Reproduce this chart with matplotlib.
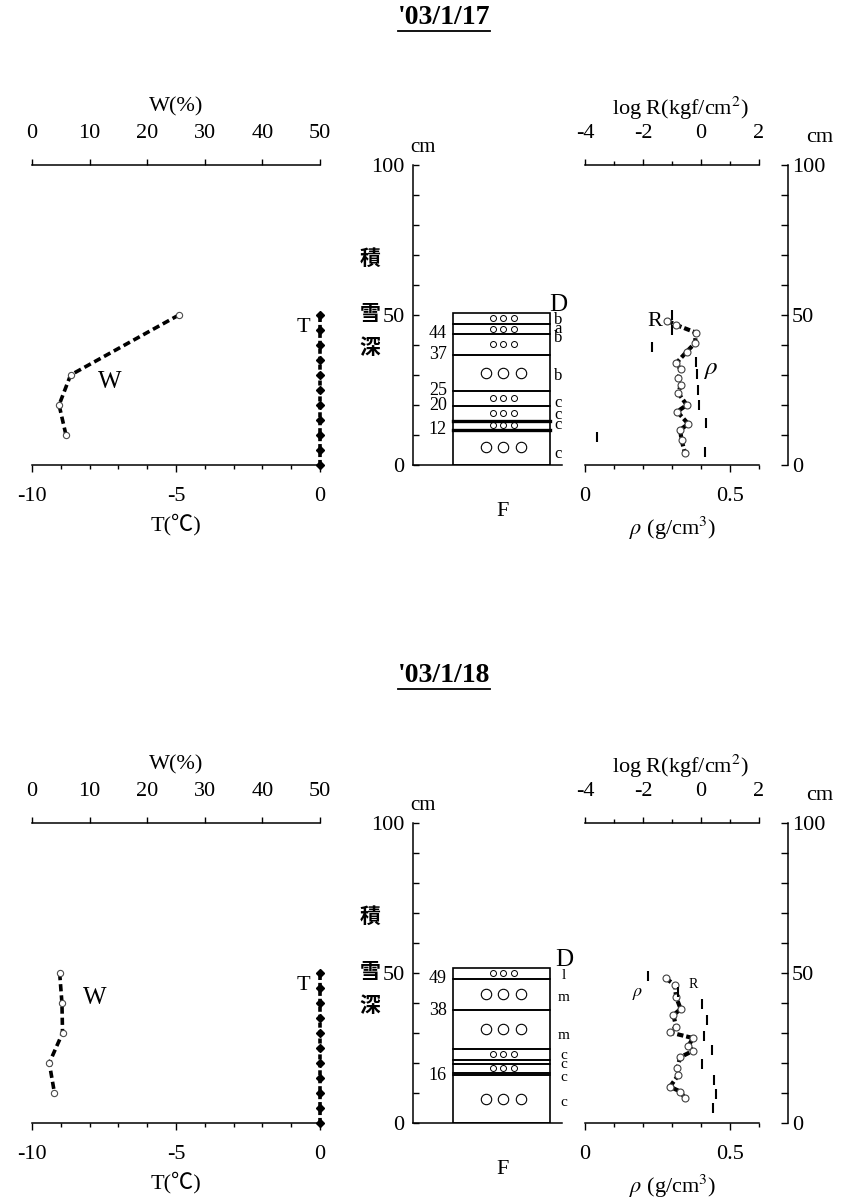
import matplotlib
matplotlib.use("Agg")
import matplotlib.pyplot as plt
from matplotlib.lines import Line2D
from matplotlib.patches import Rectangle
from matplotlib.ticker import MultipleLocator, FixedLocator

plt.rcParams['font.family'] = ['Liberation Serif', 'Noto Sans CJK JP', 'DejaVu Sans']
plt.rcParams['mathtext.fontset'] = 'stix'
plt.rcParams['axes.unicode_minus'] = False
plt.rcParams['axes.linewidth'] = 1.1

FIG_W, FIG_H = 842, 1204

# ---- '03/1/17 ----
title_17 = "'03/1/17"
t_depth_17 = [0, 5, 10, 15, 20, 25, 30, 35, 40, 45, 50]
t_val_17 = [0, 0, 0, 0, 0, 0, 0, 0, 0, 0, 0]
w_depth_17 = [50, 30, 20, 10]
w_val_17 = [25.5, 6.7, 4.7, 5.9]
layer_tops_17 = [50.8, 47, 43.7, 36.7, 24.8, 19.8, 14.8, 11.7, 0]
grains_17 = ['s', 's', 's', 'L', 's', 's', 's', 'L']
thick_17 = [14.8, 11.7]
bound_labels_17 = ['', '', '44', '37', '25', '20', '', '12', '']
hard_text_17 = ['D', 'b', 'a', 'b', 'b', 'c', 'c', 'c', 'c']
hard_depth_17 = [53.3, 48.3, 45.4, 42.4, 29.8, 20.8, 16.6, 13.3, 3.7]
rho_depth_17 = [48.1, 46.7, 44.1, 40.6, 37.8, 33.9, 31.9, 28.9, 26.7, 23.9, 20.0, 17.8, 13.7, 11.7, 8.3, 3.9]
rho_val_17 = [0.284, 0.314, 0.383, 0.379, 0.351, 0.314, 0.330, 0.322, 0.330, 0.322, 0.351, 0.318, 0.356, 0.328, 0.333, 0.345]
logr_depth_17 = [50, 45, 39.5, 34.5, 30.5, 25, 20, 14, 9.5, 4.5]
logr_val_17 = [-1.0, -1.0, -1.7, -0.17, -0.13, -0.1, -0.08, 0.17, -3.6, 0.14]

# ---- '03/1/18 ----
title_18 = "'03/1/18"
t_depth_18 = [0, 5, 10, 15, 20, 25, 30, 35, 40, 45, 50]
t_val_18 = [0, 0, 0, 0, 0, 0, 0, 0, 0, 0, 0]
w_depth_18 = [50, 40, 30, 20, 10]
w_val_18 = [4.8, 5.2, 5.3, 3.0, 3.9]
layer_tops_18 = [51.8, 48.1, 37.6, 24.8, 20.9, 19.8, 16.7, 15.9, 0]
grains_18 = ['s', 'L', 'L', 's', '', 's', '', 'L']
thick_18 = []
bound_labels_18 = ['', '49', '38', '', '', '', '', '16', '']
hard_text_18 = ['D', 'l', 'm', 'm', 'c', 'c', 'c', 'c']
hard_depth_18 = [54.2, 49.2, 41.8, 29.2, 22.4, 19.4, 15.3, 7.0]
rho_depth_18 = [48.2, 46.0, 42.0, 38.0, 36.0, 32.1, 30.2, 28.3, 25.7, 24.1, 21.9, 18.2, 16.0, 12.1, 10.5, 8.3]
rho_val_18 = [0.279, 0.310, 0.314, 0.330, 0.305, 0.314, 0.293, 0.373, 0.356, 0.373, 0.328, 0.318, 0.322, 0.293, 0.328, 0.345]
logr_depth_18 = [48.9, 43.6, 39.6, 34.3, 29.1, 24.2, 19.8, 14.5, 9.7, 4.9]
logr_val_18 = [-1.82, -0.79, 0.02, 0.22, 0.10, 0.37, 0.02, 0.45, 0.52, 0.40]


def add_px_axes(fig, x0, x1, y_top, y_bot):
    return fig.add_axes([x0 / FIG_W, 1 - y_bot / FIG_H,
                         (x1 - x0) / FIG_W, (y_bot - y_top) / FIG_H])


def put(fig, x, y, s, **kw):
    kw.setdefault('ha', 'center')
    kw.setdefault('va', 'center')
    return fig.text(x / FIG_W, 1 - y / FIG_H, s, **kw)


def hide(ax, *names):
    for n in names:
        ax.spines[n].set_visible(False)


def draw_day(fig, dy, day):
    # title with underline
    t = put(fig, 444, 18 + dy, day['title'], fontsize=20, fontweight='bold')
    bb = t.get_window_extent(fig.canvas.get_renderer())
    fig.add_artist(Line2D([bb.x0 / FIG_W, bb.x1 / FIG_W], [1 - (31 + dy) / FIG_H] * 2,
                          color='black', lw=1.3))

    # --- T / W profile ---
    ax = add_px_axes(fig, 32, 320, 165 + dy, 465 + dy)
    ax.set_xlim(-10, 0)
    ax.set_ylim(0, 100)
    hide(ax, 'left', 'right', 'top')
    ax.yaxis.set_visible(False)
    ax.xaxis.set_major_locator(MultipleLocator(5))
    ax.xaxis.set_minor_locator(MultipleLocator(1))
    ax.tick_params(axis='x', which='major', length=5, width=1, labelsize=16, pad=11)
    ax.tick_params(axis='x', which='minor', length=3, width=1)
    ax.plot(day['t_val'], day['t_depth'], color='black', lw=2.6, dashes=(1.4, 0.8),
            marker='D', ms=4, clip_on=False, zorder=3)

    axw = ax.twiny()
    axw.set_xlim(0, 50)
    hide(axw, 'left', 'right', 'bottom')
    axw.xaxis.set_major_locator(MultipleLocator(10))
    axw.tick_params(axis='x', which='major', length=4, width=1, labelsize=16, pad=12)
    axw.plot(day['w_val'], day['w_depth'], color='black', lw=2.6, dashes=(2.0, 1.1),
             marker='o', ms=4.5, mfc='white', mec='0.3', mew=0.8, clip_on=False)

    put(fig, 176, 107 + dy, 'W(%)', fontsize=16)
    put(fig, 176, 525 + dy, 'T(℃)', fontsize=16)
    put(fig, day['w_lab'][0], day['w_lab'][1] + dy, 'W', fontsize=18)
    put(fig, 303, 327 + dy, 'T', fontsize=16)

    # --- stratigraphy ---
    axm = add_px_axes(fig, 413, 562, 165 + dy, 465 + dy)
    axm.set_xlim(0, 149)
    axm.set_ylim(0, 100)
    hide(axm, 'top', 'right')
    axm.xaxis.set_visible(False)
    axm.yaxis.set_major_locator(MultipleLocator(50))
    axm.yaxis.set_minor_locator(MultipleLocator(10))
    axm.tick_params(axis='y', which='both', direction='in', length=4.5, width=1,
                    labelsize=16, pad=6)
    tops = day['layer_tops']
    for i, g in enumerate(day['grains']):
        top, bot = tops[i], tops[i + 1]
        axm.add_patch(Rectangle((40, bot), 97, top - bot, fill=False, lw=1.2,
                                edgecolor='black'))
        mid = (top + bot) / 2
        if g == 's':
            axm.plot([80, 90, 101], [mid] * 3, 'o', ms=4.3, mfc='none', mec='black', mew=0.7)
        elif g == 'L':
            axm.plot([73, 90, 108], [mid] * 3, 'o', ms=7.5, mfc='none', mec='black', mew=0.8)
    for b in day['thick']:
        axm.plot([40, 137], [b, b], color='black', lw=2.4)
    for lab, d in zip(day['bound_labels'], tops):
        if lab:
            axm.text(34, d, lab, ha='right', va='center', fontsize=13)
    for i, (s, d) in enumerate(zip(day['hard_text'], day['hard_depth'])):
        axm.text(day['hard_x'], d, s, ha='center', va='center',
                 fontsize=18 if i == 0 else day['hard_fs'], clip_on=False)

    put(fig, 423, 148 + dy, 'cm', fontsize=15)
    for ch, y in zip('積雪深', (258, 313, 348)):
        put(fig, 370, y + dy, ch, fontsize=15, fontweight='bold', family='Noto Sans CJK JP')
    put(fig, 503, 512 + dy, 'F', fontsize=16)

    # --- density / hardness ---
    axr = add_px_axes(fig, 585, 759, 165 + dy, 465 + dy)
    axr.set_xlim(0, 0.6)
    axr.set_ylim(0, 100)
    hide(axr, 'top', 'left')
    axr.spines['right'].set_position(('outward', 29 * 0.72))
    axr.yaxis.tick_right()
    axr.yaxis.set_major_locator(MultipleLocator(50))
    axr.yaxis.set_minor_locator(MultipleLocator(10))
    axr.tick_params(axis='y', which='both', direction='in', length=5, width=1,
                    labelsize=16, pad=3)
    axr.xaxis.set_major_locator(FixedLocator([0, 0.5]))
    axr.xaxis.set_minor_locator(MultipleLocator(0.1))
    axr.xaxis.set_major_formatter(lambda v, p: '0' if v == 0 else f'{v:g}')
    axr.tick_params(axis='x', which='major', length=5, width=1, labelsize=16, pad=11)
    axr.tick_params(axis='x', which='minor', length=3, width=1)
    axr.plot(day['rho_val'], day['rho_depth'], color='black', lw=3.0, dashes=(1.5, 0.7),
             marker='o', ms=5, mfc='white', mec='0.25', mew=0.8, clip_on=False)

    axl = axr.twiny()
    axl.set_xlim(-4, 2)
    hide(axl, 'left', 'right', 'bottom')
    axl.xaxis.set_major_locator(FixedLocator([-4, -2, 0, 2]))
    axl.xaxis.set_minor_locator(MultipleLocator(1))
    axl.tick_params(axis='x', which='major', length=4, width=1, labelsize=16, pad=12)
    axl.tick_params(axis='x', which='minor', length=3, width=1)
    axl.plot(day['logr_val'], day['logr_depth'], ls='none', marker='|', ms=7,
             mew=1.5, color='black', clip_on=False)

    put(fig, 680, 108 + dy, 'log R(kgf/cm$^2$)', fontsize=16)
    put(fig, 820, 137 + dy, 'cm', fontsize=16)
    put(fig, 673, 528 + dy, r'$\rho$ (g/cm$^3$)', fontsize=16)
    rx, ry, rs = day['r_lab']
    put(fig, rx, ry + dy, 'R', fontsize=rs)
    px, py, ps = day['rho_lab']
    put(fig, px, py + dy, r'$\rho$', fontsize=ps)


fig = plt.figure(figsize=(FIG_W / 100, FIG_H / 100), dpi=100)

day17 = dict(title=title_17, t_depth=t_depth_17, t_val=t_val_17,
             w_depth=w_depth_17, w_val=w_val_17, w_lab=(110, 382),
             layer_tops=layer_tops_17, grains=grains_17, thick=thick_17,
             bound_labels=bound_labels_17, hard_text=hard_text_17,
             hard_depth=hard_depth_17, hard_x=145, hard_fs=12,
             rho_depth=rho_depth_17, rho_val=rho_val_17,
             logr_depth=logr_depth_17, logr_val=logr_val_17,
             r_lab=(655, 322, 16), rho_lab=(710, 370, 18))
day18 = dict(title=title_18, t_depth=t_depth_18, t_val=t_val_18,
             w_depth=w_depth_18, w_val=w_val_18, w_lab=(95, 340),
             layer_tops=layer_tops_18, grains=grains_18, thick=thick_18,
             bound_labels=bound_labels_18, hard_text=hard_text_18,
             hard_depth=hard_depth_18, hard_x=151, hard_fs=11,
             rho_depth=rho_depth_18, rho_val=rho_val_18,
             logr_depth=logr_depth_18, logr_val=logr_val_18,
             r_lab=(693, 327, 10), rho_lab=(638, 335, 13))

draw_day(fig, 0, day17)
draw_day(fig, 658, day18)

fig.savefig('out.png', dpi=100)
